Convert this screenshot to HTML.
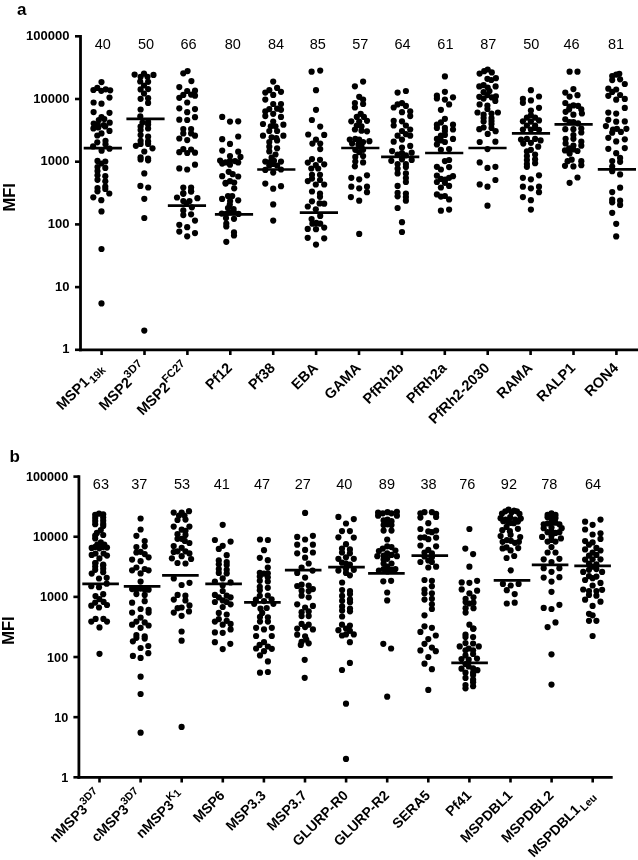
<!DOCTYPE html>
<html><head><meta charset="utf-8"><title>MFI dot plots</title>
<style>
html,body{margin:0;padding:0;background:#fff;}
svg{display:block;}
text{font-family:"Liberation Sans",Arial,sans-serif;fill:#000;}
.tk,.lb,.nm,.mfi{font-weight:bold;}
.nm{font-size:17px;}
.mfi{font-size:16.5px;}
circle{fill:#000;}
</style></head>
<body>
<svg width="638" height="860" viewBox="0 0 638 860">
<rect width="638" height="860" fill="#fff"/>
<line x1="80.5" y1="35.0" x2="80.5" y2="351.3" stroke="#000" stroke-width="2.8"/>
<line x1="75.0" y1="349.80" x2="80.5" y2="349.80" stroke="#000" stroke-width="2.6"/>
<text x="69.4" y="353.48" text-anchor="end" class="tk" font-size="13">1</text>
<line x1="75.0" y1="287.10" x2="80.5" y2="287.10" stroke="#000" stroke-width="2.6"/>
<text x="69.4" y="290.78" text-anchor="end" class="tk" font-size="13">10</text>
<line x1="75.0" y1="224.40" x2="80.5" y2="224.40" stroke="#000" stroke-width="2.6"/>
<text x="69.4" y="228.08" text-anchor="end" class="tk" font-size="13">100</text>
<line x1="75.0" y1="161.70" x2="80.5" y2="161.70" stroke="#000" stroke-width="2.6"/>
<text x="69.4" y="165.38" text-anchor="end" class="tk" font-size="13">1000</text>
<line x1="75.0" y1="99.00" x2="80.5" y2="99.00" stroke="#000" stroke-width="2.6"/>
<text x="69.4" y="102.68" text-anchor="end" class="tk" font-size="13">10000</text>
<line x1="75.0" y1="36.30" x2="80.5" y2="36.30" stroke="#000" stroke-width="2.6"/>
<text x="69.4" y="39.98" text-anchor="end" class="tk" font-size="13">100000</text>
<line x1="79.0" y1="349.8" x2="638" y2="349.8" stroke="#000" stroke-width="2.7"/>
<line x1="101.60" y1="349.8" x2="101.60" y2="355.0" stroke="#000" stroke-width="2.6"/>
<text x="102.80" y="49" text-anchor="middle" class="cn" font-size="14.5">40</text>
<text transform="translate(104.30,368.8) rotate(-45)" text-anchor="end" class="lb" font-size="14.5">MSP1<tspan dx="1.5" dy="3" font-size="11.0">19k</tspan></text>
<line x1="144.50" y1="349.8" x2="144.50" y2="355.0" stroke="#000" stroke-width="2.6"/>
<text x="146.00" y="49" text-anchor="middle" class="cn" font-size="14.5">50</text>
<text transform="translate(147.20,368.8) rotate(-45)" text-anchor="end" class="lb" font-size="14.5">MSP2<tspan dy="-6.5" font-size="11.2">3D7</tspan></text>
<line x1="187.40" y1="349.8" x2="187.40" y2="355.0" stroke="#000" stroke-width="2.6"/>
<text x="188.60" y="49" text-anchor="middle" class="cn" font-size="14.5">66</text>
<text transform="translate(190.10,368.8) rotate(-45)" text-anchor="end" class="lb" font-size="14.5">MSP2<tspan dy="-6.5" font-size="11.2">FC27</tspan></text>
<line x1="230.30" y1="349.8" x2="230.30" y2="355.0" stroke="#000" stroke-width="2.6"/>
<text x="232.80" y="49" text-anchor="middle" class="cn" font-size="14.5">80</text>
<text transform="translate(233.00,368.8) rotate(-45)" text-anchor="end" class="lb" font-size="14.5">Pf12</text>
<line x1="273.20" y1="349.8" x2="273.20" y2="355.0" stroke="#000" stroke-width="2.6"/>
<text x="276.00" y="49" text-anchor="middle" class="cn" font-size="14.5">84</text>
<text transform="translate(275.90,368.8) rotate(-45)" text-anchor="end" class="lb" font-size="14.5">Pf38</text>
<line x1="316.10" y1="349.8" x2="316.10" y2="355.0" stroke="#000" stroke-width="2.6"/>
<text x="317.70" y="49" text-anchor="middle" class="cn" font-size="14.5">85</text>
<text transform="translate(318.80,368.8) rotate(-45)" text-anchor="end" class="lb" font-size="14.5">EBA</text>
<line x1="359.00" y1="349.8" x2="359.00" y2="355.0" stroke="#000" stroke-width="2.6"/>
<text x="360.30" y="49" text-anchor="middle" class="cn" font-size="14.5">57</text>
<text transform="translate(361.70,368.8) rotate(-45)" text-anchor="end" class="lb" font-size="14.5">GAMA</text>
<line x1="401.90" y1="349.8" x2="401.90" y2="355.0" stroke="#000" stroke-width="2.6"/>
<text x="402.50" y="49" text-anchor="middle" class="cn" font-size="14.5">64</text>
<text transform="translate(404.60,368.8) rotate(-45)" text-anchor="end" class="lb" font-size="14.5">PfRh2b</text>
<line x1="444.80" y1="349.8" x2="444.80" y2="355.0" stroke="#000" stroke-width="2.6"/>
<text x="445.40" y="49" text-anchor="middle" class="cn" font-size="14.5">61</text>
<text transform="translate(447.50,368.8) rotate(-45)" text-anchor="end" class="lb" font-size="14.5">PfRh2a</text>
<line x1="487.70" y1="349.8" x2="487.70" y2="355.0" stroke="#000" stroke-width="2.6"/>
<text x="488.20" y="49" text-anchor="middle" class="cn" font-size="14.5">87</text>
<text transform="translate(490.40,368.8) rotate(-45)" text-anchor="end" class="lb" font-size="14.5">PfRh2-2030</text>
<line x1="530.60" y1="349.8" x2="530.60" y2="355.0" stroke="#000" stroke-width="2.6"/>
<text x="531.20" y="49" text-anchor="middle" class="cn" font-size="14.5">50</text>
<text transform="translate(533.30,368.8) rotate(-45)" text-anchor="end" class="lb" font-size="14.5">RAMA</text>
<line x1="573.50" y1="349.8" x2="573.50" y2="355.0" stroke="#000" stroke-width="2.6"/>
<text x="571.60" y="49" text-anchor="middle" class="cn" font-size="14.5">46</text>
<text transform="translate(576.20,368.8) rotate(-45)" text-anchor="end" class="lb" font-size="14.5">RALP1</text>
<line x1="616.40" y1="349.8" x2="616.40" y2="355.0" stroke="#000" stroke-width="2.6"/>
<text x="616.00" y="49" text-anchor="middle" class="cn" font-size="14.5">81</text>
<text transform="translate(619.10,368.8) rotate(-45)" text-anchor="end" class="lb" font-size="14.5">RON4</text>
<circle cx="101.5" cy="82.1" r="3.1"/>
<circle cx="93.4" cy="90" r="3.1"/>
<circle cx="97.3" cy="87.9" r="3.1"/>
<circle cx="101.3" cy="90.8" r="3.1"/>
<circle cx="105.7" cy="89.3" r="3.1"/>
<circle cx="110.2" cy="90.3" r="3.1"/>
<circle cx="109.5" cy="97.6" r="3.1"/>
<circle cx="93.6" cy="102.5" r="3.1"/>
<circle cx="101.5" cy="103.7" r="3.1"/>
<circle cx="93.6" cy="112.1" r="3.1"/>
<circle cx="109.5" cy="112.8" r="3.1"/>
<circle cx="101.5" cy="117" r="3.1"/>
<circle cx="98.8" cy="120" r="3.1"/>
<circle cx="104.3" cy="119" r="3.1"/>
<circle cx="93.7" cy="123.5" r="3.1"/>
<circle cx="97.8" cy="124.5" r="3.1"/>
<circle cx="103.8" cy="125" r="3.1"/>
<circle cx="109.7" cy="122.7" r="3.1"/>
<circle cx="93.4" cy="128.4" r="3.1"/>
<circle cx="98.3" cy="127.4" r="3.1"/>
<circle cx="105.2" cy="126.4" r="3.1"/>
<circle cx="109.5" cy="130.9" r="3.1"/>
<circle cx="101.5" cy="133.4" r="3.1"/>
<circle cx="97.3" cy="135.5" r="3.1"/>
<circle cx="97.3" cy="142.3" r="3.1"/>
<circle cx="105.5" cy="140.8" r="3.1"/>
<circle cx="105.5" cy="144.2" r="3.1"/>
<circle cx="93.1" cy="146.4" r="3.1"/>
<circle cx="101.6" cy="150.7" r="3.1"/>
<circle cx="109.5" cy="148.7" r="3.1"/>
<circle cx="97.5" cy="160.9" r="3.1"/>
<circle cx="97.5" cy="167" r="3.1"/>
<circle cx="97.5" cy="171.1" r="3.1"/>
<circle cx="97.5" cy="175.3" r="3.1"/>
<circle cx="97.5" cy="179.8" r="3.1"/>
<circle cx="97.5" cy="188.1" r="3.1"/>
<circle cx="97.5" cy="191.3" r="3.1"/>
<circle cx="105.3" cy="161.5" r="3.1"/>
<circle cx="105.3" cy="167.9" r="3.1"/>
<circle cx="105.3" cy="176.2" r="3.1"/>
<circle cx="105.3" cy="181.3" r="3.1"/>
<circle cx="105.3" cy="186.5" r="3.1"/>
<circle cx="105.3" cy="189" r="3.1"/>
<circle cx="101.3" cy="163.5" r="3.1"/>
<circle cx="109.3" cy="193.5" r="3.1"/>
<circle cx="93.3" cy="197.3" r="3.1"/>
<circle cx="101.3" cy="200.2" r="3.1"/>
<circle cx="101.5" cy="211.4" r="3.1"/>
<circle cx="101.5" cy="249" r="3.1"/>
<circle cx="101.5" cy="303.4" r="3.1"/>
<circle cx="134.6" cy="74.6" r="3.1"/>
<circle cx="153.5" cy="74.9" r="3.1"/>
<circle cx="144" cy="73.7" r="3.1"/>
<circle cx="140.6" cy="76.8" r="3.1"/>
<circle cx="147.5" cy="76.8" r="3.1"/>
<circle cx="140.2" cy="81.5" r="3.1"/>
<circle cx="148.1" cy="81.8" r="3.1"/>
<circle cx="144" cy="85.5" r="3.1"/>
<circle cx="140.6" cy="89.4" r="3.1"/>
<circle cx="148.1" cy="89.1" r="3.1"/>
<circle cx="144" cy="93.5" r="3.1"/>
<circle cx="140.6" cy="98.8" r="3.1"/>
<circle cx="148.1" cy="98.2" r="3.1"/>
<circle cx="148.1" cy="102.9" r="3.1"/>
<circle cx="140.6" cy="109.5" r="3.1"/>
<circle cx="140.3" cy="116.4" r="3.1"/>
<circle cx="142.5" cy="122.5" r="3.1"/>
<circle cx="140.6" cy="126.6" r="3.1"/>
<circle cx="140.6" cy="130.1" r="3.1"/>
<circle cx="140.6" cy="135.1" r="3.1"/>
<circle cx="140.6" cy="140.8" r="3.1"/>
<circle cx="140.6" cy="143.9" r="3.1"/>
<circle cx="135.9" cy="145.8" r="3.1"/>
<circle cx="148.1" cy="121.9" r="3.1"/>
<circle cx="148.1" cy="124.4" r="3.1"/>
<circle cx="148.1" cy="128.5" r="3.1"/>
<circle cx="148.1" cy="136.7" r="3.1"/>
<circle cx="148.1" cy="141.4" r="3.1"/>
<circle cx="148.1" cy="143.9" r="3.1"/>
<circle cx="152.5" cy="148.3" r="3.1"/>
<circle cx="144.3" cy="151.5" r="3.1"/>
<circle cx="140.6" cy="157.3" r="3.1"/>
<circle cx="140.6" cy="159.5" r="3.1"/>
<circle cx="148.1" cy="158.5" r="3.1"/>
<circle cx="148.1" cy="160.3" r="3.1"/>
<circle cx="144.3" cy="173.4" r="3.1"/>
<circle cx="140.4" cy="185.9" r="3.1"/>
<circle cx="148.2" cy="187.5" r="3.1"/>
<circle cx="144.3" cy="198.8" r="3.1"/>
<circle cx="144.3" cy="218" r="3.1"/>
<circle cx="144.3" cy="330.6" r="3.1"/>
<circle cx="183.3" cy="73.3" r="3.1"/>
<circle cx="187.6" cy="71.1" r="3.1"/>
<circle cx="191.4" cy="81.1" r="3.1"/>
<circle cx="179.3" cy="87.1" r="3.1"/>
<circle cx="187.2" cy="91.0" r="3.1"/>
<circle cx="195.0" cy="90.7" r="3.1"/>
<circle cx="183.3" cy="94.9" r="3.1"/>
<circle cx="191.1" cy="94.6" r="3.1"/>
<circle cx="195.0" cy="95.7" r="3.1"/>
<circle cx="179.3" cy="97.8" r="3.1"/>
<circle cx="187.2" cy="102.5" r="3.1"/>
<circle cx="179.3" cy="108.3" r="3.1"/>
<circle cx="195.0" cy="109.1" r="3.1"/>
<circle cx="187.2" cy="112.2" r="3.1"/>
<circle cx="179.3" cy="119.7" r="3.1"/>
<circle cx="187.2" cy="120.0" r="3.1"/>
<circle cx="195.0" cy="117.2" r="3.1"/>
<circle cx="183.3" cy="129.1" r="3.1"/>
<circle cx="191.1" cy="129.1" r="3.1"/>
<circle cx="183.3" cy="133.4" r="3.1"/>
<circle cx="191.1" cy="133.4" r="3.1"/>
<circle cx="195.0" cy="135.7" r="3.1"/>
<circle cx="179.3" cy="138.5" r="3.1"/>
<circle cx="187.2" cy="140.1" r="3.1"/>
<circle cx="179.3" cy="152.2" r="3.1"/>
<circle cx="183.3" cy="149.1" r="3.1"/>
<circle cx="187.2" cy="153.0" r="3.1"/>
<circle cx="191.1" cy="149.5" r="3.1"/>
<circle cx="195.0" cy="152.7" r="3.1"/>
<circle cx="179.3" cy="168.4" r="3.1"/>
<circle cx="187.2" cy="169.5" r="3.1"/>
<circle cx="195.0" cy="164.7" r="3.1"/>
<circle cx="183.3" cy="187.5" r="3.1"/>
<circle cx="191.1" cy="187.5" r="3.1"/>
<circle cx="191.1" cy="191.4" r="3.1"/>
<circle cx="183.3" cy="193.8" r="3.1"/>
<circle cx="183.3" cy="193.1" r="3.1"/>
<circle cx="191.1" cy="191.3" r="3.1"/>
<circle cx="177.0" cy="197.5" r="3.1"/>
<circle cx="197.4" cy="198.2" r="3.1"/>
<circle cx="183.3" cy="201.0" r="3.1"/>
<circle cx="189.5" cy="201.0" r="3.1"/>
<circle cx="186.4" cy="203.3" r="3.1"/>
<circle cx="191.9" cy="207.3" r="3.1"/>
<circle cx="183.3" cy="210.4" r="3.1"/>
<circle cx="183.3" cy="215.1" r="3.1"/>
<circle cx="191.1" cy="214.3" r="3.1"/>
<circle cx="195.0" cy="220.6" r="3.1"/>
<circle cx="179.3" cy="224.8" r="3.1"/>
<circle cx="187.2" cy="227.2" r="3.1"/>
<circle cx="179.3" cy="231.6" r="3.1"/>
<circle cx="187.2" cy="236.3" r="3.1"/>
<circle cx="195.0" cy="233.1" r="3.1"/>
<circle cx="222.2" cy="116.9" r="3.1"/>
<circle cx="230.0" cy="121.6" r="3.1"/>
<circle cx="238.2" cy="121.3" r="3.1"/>
<circle cx="238.2" cy="136.5" r="3.1"/>
<circle cx="222.2" cy="139.2" r="3.1"/>
<circle cx="230.0" cy="143.9" r="3.1"/>
<circle cx="222.2" cy="150.6" r="3.1"/>
<circle cx="238.2" cy="151.7" r="3.1"/>
<circle cx="230.0" cy="156.1" r="3.1"/>
<circle cx="240.5" cy="156.9" r="3.1"/>
<circle cx="220.1" cy="160.5" r="3.1"/>
<circle cx="225.6" cy="162.4" r="3.1"/>
<circle cx="230.0" cy="160.8" r="3.1"/>
<circle cx="235.0" cy="161.1" r="3.1"/>
<circle cx="238.2" cy="162.4" r="3.1"/>
<circle cx="230.0" cy="164.7" r="3.1"/>
<circle cx="222.2" cy="163.6" r="3.1"/>
<circle cx="228.7" cy="171.8" r="3.1"/>
<circle cx="222.2" cy="176.2" r="3.1"/>
<circle cx="232.7" cy="174.2" r="3.1"/>
<circle cx="238.2" cy="176.5" r="3.1"/>
<circle cx="225.6" cy="182.8" r="3.1"/>
<circle cx="230.0" cy="181.2" r="3.1"/>
<circle cx="234.2" cy="182.5" r="3.1"/>
<circle cx="234.2" cy="188.3" r="3.1"/>
<circle cx="225.6" cy="183.6" r="3.1"/>
<circle cx="222.1" cy="198.9" r="3.1"/>
<circle cx="228" cy="196.1" r="3.1"/>
<circle cx="232.2" cy="196.1" r="3.1"/>
<circle cx="238.2" cy="200.3" r="3.1"/>
<circle cx="230.1" cy="201" r="3.1"/>
<circle cx="229.8" cy="204.5" r="3.1"/>
<circle cx="228" cy="208" r="3.1"/>
<circle cx="233.6" cy="209" r="3.1"/>
<circle cx="221.8" cy="213.6" r="3.1"/>
<circle cx="226" cy="213.9" r="3.1"/>
<circle cx="230" cy="212.5" r="3.1"/>
<circle cx="234" cy="212.5" r="3.1"/>
<circle cx="238.5" cy="213.9" r="3.1"/>
<circle cx="226" cy="218.1" r="3.1"/>
<circle cx="234" cy="218.8" r="3.1"/>
<circle cx="226.3" cy="223.7" r="3.1"/>
<circle cx="226.3" cy="226.5" r="3.1"/>
<circle cx="234" cy="232.4" r="3.1"/>
<circle cx="234" cy="235.5" r="3.1"/>
<circle cx="226.3" cy="241.8" r="3.1"/>
<circle cx="273.2" cy="81.6" r="3.1"/>
<circle cx="269.3" cy="90.2" r="3.1"/>
<circle cx="277.1" cy="87.9" r="3.1"/>
<circle cx="265.3" cy="92.6" r="3.1"/>
<circle cx="281.0" cy="91.8" r="3.1"/>
<circle cx="273.2" cy="94.9" r="3.1"/>
<circle cx="265.3" cy="99.6" r="3.1"/>
<circle cx="273.2" cy="104.0" r="3.1"/>
<circle cx="281.0" cy="104.0" r="3.1"/>
<circle cx="269.3" cy="109.1" r="3.1"/>
<circle cx="277.1" cy="108.7" r="3.1"/>
<circle cx="265.3" cy="111.4" r="3.1"/>
<circle cx="281.0" cy="109.8" r="3.1"/>
<circle cx="273.2" cy="113.8" r="3.1"/>
<circle cx="265.3" cy="116.1" r="3.1"/>
<circle cx="281.0" cy="116.9" r="3.1"/>
<circle cx="263.0" cy="124.0" r="3.1"/>
<circle cx="273.2" cy="121.6" r="3.1"/>
<circle cx="283.4" cy="124.7" r="3.1"/>
<circle cx="270.8" cy="126.3" r="3.1"/>
<circle cx="275.5" cy="126.3" r="3.1"/>
<circle cx="269.3" cy="131.0" r="3.1"/>
<circle cx="277.1" cy="131.0" r="3.1"/>
<circle cx="263.0" cy="135.7" r="3.1"/>
<circle cx="283.4" cy="135.7" r="3.1"/>
<circle cx="271.6" cy="137.3" r="3.1"/>
<circle cx="276.3" cy="138.1" r="3.1"/>
<circle cx="269.3" cy="142.0" r="3.1"/>
<circle cx="277.1" cy="140.4" r="3.1"/>
<circle cx="269.3" cy="146.7" r="3.1"/>
<circle cx="277.1" cy="148.3" r="3.1"/>
<circle cx="269.3" cy="151.4" r="3.1"/>
<circle cx="275.5" cy="154.5" r="3.1"/>
<circle cx="271.6" cy="157.7" r="3.1"/>
<circle cx="265.3" cy="161.6" r="3.1"/>
<circle cx="269.3" cy="162.4" r="3.1"/>
<circle cx="274.0" cy="160.8" r="3.1"/>
<circle cx="281.0" cy="161.6" r="3.1"/>
<circle cx="269.3" cy="165.5" r="3.1"/>
<circle cx="277.1" cy="165.5" r="3.1"/>
<circle cx="273.2" cy="164.0" r="3.1"/>
<circle cx="265.3" cy="169.9" r="3.1"/>
<circle cx="273.2" cy="172.6" r="3.1"/>
<circle cx="281.0" cy="169.5" r="3.1"/>
<circle cx="265.3" cy="183.6" r="3.1"/>
<circle cx="273.2" cy="188.7" r="3.1"/>
<circle cx="281.0" cy="186.2" r="3.1"/>
<circle cx="273.2" cy="204.4" r="3.1"/>
<circle cx="273.2" cy="220.6" r="3.1"/>
<circle cx="311.6" cy="71.7" r="3.1"/>
<circle cx="320.2" cy="70.6" r="3.1"/>
<circle cx="316.0" cy="90.2" r="3.1"/>
<circle cx="316.0" cy="109.8" r="3.1"/>
<circle cx="311.9" cy="120.0" r="3.1"/>
<circle cx="320.2" cy="126.6" r="3.1"/>
<circle cx="308.2" cy="134.5" r="3.1"/>
<circle cx="324.2" cy="134.9" r="3.1"/>
<circle cx="316.0" cy="139.6" r="3.1"/>
<circle cx="312.4" cy="143.6" r="3.1"/>
<circle cx="320.2" cy="143.6" r="3.1"/>
<circle cx="320.2" cy="149.1" r="3.1"/>
<circle cx="312" cy="159.1" r="3.1"/>
<circle cx="307.8" cy="162.6" r="3.1"/>
<circle cx="320" cy="159.8" r="3.1"/>
<circle cx="324.2" cy="164.3" r="3.1"/>
<circle cx="315.8" cy="165" r="3.1"/>
<circle cx="311.3" cy="168.5" r="3.1"/>
<circle cx="318.2" cy="168.5" r="3.1"/>
<circle cx="312" cy="174.8" r="3.1"/>
<circle cx="320" cy="174.8" r="3.1"/>
<circle cx="312" cy="178.6" r="3.1"/>
<circle cx="307.8" cy="181.1" r="3.1"/>
<circle cx="320" cy="180" r="3.1"/>
<circle cx="315.8" cy="184.5" r="3.1"/>
<circle cx="324.2" cy="184.5" r="3.1"/>
<circle cx="312" cy="191.5" r="3.1"/>
<circle cx="320" cy="193.6" r="3.1"/>
<circle cx="320" cy="196.8" r="3.1"/>
<circle cx="312" cy="201.3" r="3.1"/>
<circle cx="307.8" cy="206.5" r="3.1"/>
<circle cx="319.6" cy="203.4" r="3.1"/>
<circle cx="324.2" cy="203.7" r="3.1"/>
<circle cx="315.8" cy="209.3" r="3.1"/>
<circle cx="320.2" cy="215.9" r="3.1"/>
<circle cx="311.6" cy="219.0" r="3.1"/>
<circle cx="312.4" cy="223.7" r="3.1"/>
<circle cx="316.3" cy="222.9" r="3.1"/>
<circle cx="320.2" cy="223.7" r="3.1"/>
<circle cx="307.7" cy="228.9" r="3.1"/>
<circle cx="316.0" cy="229.2" r="3.1"/>
<circle cx="324.2" cy="227.6" r="3.1"/>
<circle cx="307.7" cy="237.8" r="3.1"/>
<circle cx="324.2" cy="238.3" r="3.1"/>
<circle cx="316.0" cy="244.6" r="3.1"/>
<circle cx="363.1" cy="81.6" r="3.1"/>
<circle cx="354.9" cy="86.3" r="3.1"/>
<circle cx="359.2" cy="96.8" r="3.1"/>
<circle cx="363.1" cy="99.6" r="3.1"/>
<circle cx="354.9" cy="103.1" r="3.1"/>
<circle cx="363.1" cy="104.0" r="3.1"/>
<circle cx="354.9" cy="107.5" r="3.1"/>
<circle cx="360.7" cy="113.8" r="3.1"/>
<circle cx="356.8" cy="116.9" r="3.1"/>
<circle cx="363.9" cy="116.9" r="3.1"/>
<circle cx="351.3" cy="121.3" r="3.1"/>
<circle cx="367.0" cy="120.8" r="3.1"/>
<circle cx="359.2" cy="121.6" r="3.1"/>
<circle cx="356.8" cy="125.5" r="3.1"/>
<circle cx="361.5" cy="126.3" r="3.1"/>
<circle cx="354.9" cy="129.5" r="3.1"/>
<circle cx="367.0" cy="131.3" r="3.1"/>
<circle cx="361.5" cy="130.7" r="3.1"/>
<circle cx="349.8" cy="139.6" r="3.1"/>
<circle cx="355.3" cy="138.9" r="3.1"/>
<circle cx="359.2" cy="139.6" r="3.1"/>
<circle cx="363.1" cy="142.0" r="3.1"/>
<circle cx="369.4" cy="141.2" r="3.1"/>
<circle cx="352.1" cy="143.6" r="3.1"/>
<circle cx="358.4" cy="144.4" r="3.1"/>
<circle cx="361.5" cy="146.7" r="3.1"/>
<circle cx="355.3" cy="149.8" r="3.1"/>
<circle cx="359.2" cy="152.2" r="3.1"/>
<circle cx="363.1" cy="149.8" r="3.1"/>
<circle cx="355.3" cy="156.9" r="3.1"/>
<circle cx="363.1" cy="156.1" r="3.1"/>
<circle cx="355.3" cy="161.6" r="3.1"/>
<circle cx="363.1" cy="162.4" r="3.1"/>
<circle cx="354.9" cy="166.3" r="3.1"/>
<circle cx="351.3" cy="177.8" r="3.1"/>
<circle cx="359.2" cy="179.3" r="3.1"/>
<circle cx="367.0" cy="175.3" r="3.1"/>
<circle cx="351.3" cy="186.7" r="3.1"/>
<circle cx="359.2" cy="188.3" r="3.1"/>
<circle cx="367.0" cy="186.7" r="3.1"/>
<circle cx="367.0" cy="192.2" r="3.1"/>
<circle cx="350.9" cy="197.1" r="3.1"/>
<circle cx="359.2" cy="200.7" r="3.1"/>
<circle cx="359.2" cy="233.9" r="3.1"/>
<circle cx="397.6" cy="92.6" r="3.1"/>
<circle cx="405.9" cy="91.0" r="3.1"/>
<circle cx="393.7" cy="107.5" r="3.1"/>
<circle cx="397.6" cy="104.4" r="3.1"/>
<circle cx="402.0" cy="103.1" r="3.1"/>
<circle cx="405.9" cy="105.9" r="3.1"/>
<circle cx="410.2" cy="111.4" r="3.1"/>
<circle cx="402.0" cy="112.2" r="3.1"/>
<circle cx="410.2" cy="116.1" r="3.1"/>
<circle cx="393.7" cy="120.8" r="3.1"/>
<circle cx="402.0" cy="121.3" r="3.1"/>
<circle cx="393.7" cy="125.5" r="3.1"/>
<circle cx="405.9" cy="125.5" r="3.1"/>
<circle cx="402.0" cy="131.0" r="3.1"/>
<circle cx="410.2" cy="129.5" r="3.1"/>
<circle cx="397.6" cy="135.7" r="3.1"/>
<circle cx="405.9" cy="134.2" r="3.1"/>
<circle cx="410.2" cy="135.7" r="3.1"/>
<circle cx="393.7" cy="141.7" r="3.1"/>
<circle cx="402.0" cy="139.6" r="3.1"/>
<circle cx="410.2" cy="145.9" r="3.1"/>
<circle cx="402.0" cy="147.5" r="3.1"/>
<circle cx="392.1" cy="151.1" r="3.1"/>
<circle cx="411.7" cy="152.7" r="3.1"/>
<circle cx="397.6" cy="154.5" r="3.1"/>
<circle cx="402.0" cy="153.0" r="3.1"/>
<circle cx="405.9" cy="155.3" r="3.1"/>
<circle cx="391.3" cy="160.8" r="3.1"/>
<circle cx="402.0" cy="159.3" r="3.1"/>
<circle cx="411.7" cy="160.0" r="3.1"/>
<circle cx="397.6" cy="164.0" r="3.1"/>
<circle cx="405.9" cy="164.0" r="3.1"/>
<circle cx="397.6" cy="168.7" r="3.1"/>
<circle cx="405.9" cy="167.1" r="3.1"/>
<circle cx="397.6" cy="173.4" r="3.1"/>
<circle cx="405.9" cy="173.4" r="3.1"/>
<circle cx="405.9" cy="178.1" r="3.1"/>
<circle cx="405.9" cy="182.0" r="3.1"/>
<circle cx="397.6" cy="185.9" r="3.1"/>
<circle cx="397.6" cy="192.8" r="3.1"/>
<circle cx="405.9" cy="193.5" r="3.1"/>
<circle cx="397.6" cy="196.3" r="3.1"/>
<circle cx="405.9" cy="197.1" r="3.1"/>
<circle cx="405.9" cy="200.7" r="3.1"/>
<circle cx="397.6" cy="208.0" r="3.1"/>
<circle cx="402.0" cy="222.2" r="3.1"/>
<circle cx="402.0" cy="232.0" r="3.1"/>
<circle cx="444.9" cy="76.4" r="3.1"/>
<circle cx="444.9" cy="91.8" r="3.1"/>
<circle cx="436.9" cy="95.7" r="3.1"/>
<circle cx="436.9" cy="98.4" r="3.1"/>
<circle cx="453.0" cy="97.3" r="3.1"/>
<circle cx="444.9" cy="99.6" r="3.1"/>
<circle cx="449.1" cy="104.4" r="3.1"/>
<circle cx="440.9" cy="109.8" r="3.1"/>
<circle cx="444.9" cy="118.8" r="3.1"/>
<circle cx="436.9" cy="124.7" r="3.1"/>
<circle cx="440.9" cy="122.4" r="3.1"/>
<circle cx="436.9" cy="127.9" r="3.1"/>
<circle cx="444.9" cy="127.9" r="3.1"/>
<circle cx="453.0" cy="124.7" r="3.1"/>
<circle cx="444.9" cy="131.0" r="3.1"/>
<circle cx="453.0" cy="129.5" r="3.1"/>
<circle cx="440.9" cy="135.7" r="3.1"/>
<circle cx="444.9" cy="134.9" r="3.1"/>
<circle cx="436.9" cy="138.9" r="3.1"/>
<circle cx="440.9" cy="140.4" r="3.1"/>
<circle cx="453.0" cy="138.9" r="3.1"/>
<circle cx="444.9" cy="142.0" r="3.1"/>
<circle cx="436.9" cy="144.4" r="3.1"/>
<circle cx="440.9" cy="149.8" r="3.1"/>
<circle cx="449.1" cy="149.1" r="3.1"/>
<circle cx="444.9" cy="161.1" r="3.1"/>
<circle cx="449.1" cy="160.0" r="3.1"/>
<circle cx="436.9" cy="166.8" r="3.1"/>
<circle cx="440.9" cy="169.5" r="3.1"/>
<circle cx="449.1" cy="167.1" r="3.1"/>
<circle cx="436.9" cy="175.7" r="3.1"/>
<circle cx="440.9" cy="178.9" r="3.1"/>
<circle cx="445.2" cy="179.6" r="3.1"/>
<circle cx="449.1" cy="177.8" r="3.1"/>
<circle cx="453.0" cy="176.2" r="3.1"/>
<circle cx="436.9" cy="182.0" r="3.1"/>
<circle cx="444.9" cy="182.8" r="3.1"/>
<circle cx="440.9" cy="187.5" r="3.1"/>
<circle cx="449.1" cy="185.9" r="3.1"/>
<circle cx="436.9" cy="194.4" r="3.1"/>
<circle cx="440.9" cy="196.6" r="3.1"/>
<circle cx="444.9" cy="196.0" r="3.1"/>
<circle cx="449.1" cy="199.4" r="3.1"/>
<circle cx="440.9" cy="210.7" r="3.1"/>
<circle cx="449.1" cy="209.6" r="3.1"/>
<circle cx="479.6" cy="73.6" r="3.1"/>
<circle cx="484.2" cy="71.2" r="3.1"/>
<circle cx="487.7" cy="69.5" r="3.1"/>
<circle cx="491.8" cy="72.4" r="3.1"/>
<circle cx="487.4" cy="78.8" r="3.1"/>
<circle cx="491.2" cy="80" r="3.1"/>
<circle cx="495.9" cy="78.2" r="3.1"/>
<circle cx="479.3" cy="86.4" r="3.1"/>
<circle cx="483.6" cy="85.2" r="3.1"/>
<circle cx="487.7" cy="87.5" r="3.1"/>
<circle cx="495.6" cy="86.4" r="3.1"/>
<circle cx="483.6" cy="92.2" r="3.1"/>
<circle cx="489.5" cy="91" r="3.1"/>
<circle cx="479.3" cy="96.8" r="3.1"/>
<circle cx="483.6" cy="98.6" r="3.1"/>
<circle cx="487.4" cy="95.1" r="3.1"/>
<circle cx="491.8" cy="97.4" r="3.1"/>
<circle cx="495.9" cy="96.3" r="3.1"/>
<circle cx="495.3" cy="100.9" r="3.1"/>
<circle cx="479.6" cy="104.4" r="3.1"/>
<circle cx="487.4" cy="105.6" r="3.1"/>
<circle cx="487.4" cy="109" r="3.1"/>
<circle cx="477.5" cy="112.5" r="3.1"/>
<circle cx="497.9" cy="112.5" r="3.1"/>
<circle cx="479.7" cy="142.0" r="3.1"/>
<circle cx="495.4" cy="141.7" r="3.1"/>
<circle cx="487.5" cy="149.1" r="3.1"/>
<circle cx="479.7" cy="162.4" r="3.1"/>
<circle cx="487.5" cy="167.9" r="3.1"/>
<circle cx="495.4" cy="166.8" r="3.1"/>
<circle cx="495.4" cy="180.0" r="3.1"/>
<circle cx="479.7" cy="184.4" r="3.1"/>
<circle cx="487.5" cy="186.7" r="3.1"/>
<circle cx="483.6" cy="114.7" r="3.1"/>
<circle cx="483.6" cy="118.1" r="3.1"/>
<circle cx="483.6" cy="121.6" r="3.1"/>
<circle cx="483.6" cy="127.5" r="3.1"/>
<circle cx="479.3" cy="129.2" r="3.1"/>
<circle cx="491.5" cy="113.5" r="3.1"/>
<circle cx="491.5" cy="118.1" r="3.1"/>
<circle cx="491.5" cy="121" r="3.1"/>
<circle cx="491.5" cy="124" r="3.1"/>
<circle cx="491.5" cy="128" r="3.1"/>
<circle cx="495.6" cy="131.2" r="3.1"/>
<circle cx="487.7" cy="133.9" r="3.1"/>
<circle cx="487.5" cy="205.7" r="3.1"/>
<circle cx="530.9" cy="90.2" r="3.1"/>
<circle cx="522.9" cy="98.9" r="3.1"/>
<circle cx="522.9" cy="102.8" r="3.1"/>
<circle cx="530.9" cy="100.4" r="3.1"/>
<circle cx="539.0" cy="96.5" r="3.1"/>
<circle cx="539.0" cy="107.8" r="3.1"/>
<circle cx="530.9" cy="110.6" r="3.1"/>
<circle cx="530.9" cy="115.3" r="3.1"/>
<circle cx="526.9" cy="117.7" r="3.1"/>
<circle cx="535.1" cy="117.7" r="3.1"/>
<circle cx="522.9" cy="121.3" r="3.1"/>
<circle cx="539.0" cy="120.4" r="3.1"/>
<circle cx="530.9" cy="121.6" r="3.1"/>
<circle cx="526.9" cy="125.5" r="3.1"/>
<circle cx="535.1" cy="125.5" r="3.1"/>
<circle cx="522.9" cy="129.5" r="3.1"/>
<circle cx="530.9" cy="129.5" r="3.1"/>
<circle cx="539.0" cy="129.8" r="3.1"/>
<circle cx="535.1" cy="127.9" r="3.1"/>
<circle cx="521.0" cy="139.6" r="3.1"/>
<circle cx="526.9" cy="138.9" r="3.1"/>
<circle cx="535.1" cy="138.9" r="3.1"/>
<circle cx="540.6" cy="140.4" r="3.1"/>
<circle cx="523.3" cy="143.6" r="3.1"/>
<circle cx="530.9" cy="142.8" r="3.1"/>
<circle cx="538.2" cy="146.7" r="3.1"/>
<circle cx="526.9" cy="151.4" r="3.1"/>
<circle cx="530.9" cy="149.8" r="3.1"/>
<circle cx="526.9" cy="156.1" r="3.1"/>
<circle cx="535.1" cy="154.5" r="3.1"/>
<circle cx="526.9" cy="160.0" r="3.1"/>
<circle cx="535.1" cy="159.3" r="3.1"/>
<circle cx="526.9" cy="164.0" r="3.1"/>
<circle cx="535.1" cy="163.2" r="3.1"/>
<circle cx="526.9" cy="166.8" r="3.1"/>
<circle cx="522.9" cy="177.8" r="3.1"/>
<circle cx="530.9" cy="179.3" r="3.1"/>
<circle cx="539.0" cy="175.3" r="3.1"/>
<circle cx="522.9" cy="186.7" r="3.1"/>
<circle cx="530.9" cy="188.3" r="3.1"/>
<circle cx="539.0" cy="186.7" r="3.1"/>
<circle cx="539.0" cy="192.2" r="3.1"/>
<circle cx="522.9" cy="197.1" r="3.1"/>
<circle cx="530.9" cy="200.2" r="3.1"/>
<circle cx="530.9" cy="209.6" r="3.1"/>
<circle cx="569.6" cy="71.7" r="3.1"/>
<circle cx="577.5" cy="71.7" r="3.1"/>
<circle cx="573.4" cy="89.1" r="3.1"/>
<circle cx="565.3" cy="92.6" r="3.1"/>
<circle cx="569.6" cy="96.6" r="3.1"/>
<circle cx="577.5" cy="95.2" r="3.1"/>
<circle cx="565.3" cy="103" r="3.1"/>
<circle cx="569.6" cy="106.5" r="3.1"/>
<circle cx="573.4" cy="105.4" r="3.1"/>
<circle cx="578.1" cy="105.9" r="3.1"/>
<circle cx="565.6" cy="111.8" r="3.1"/>
<circle cx="569.1" cy="109.4" r="3.1"/>
<circle cx="573.4" cy="114.7" r="3.1"/>
<circle cx="581.3" cy="109.4" r="3.1"/>
<circle cx="581.9" cy="113.5" r="3.1"/>
<circle cx="565.3" cy="119.3" r="3.1"/>
<circle cx="569.6" cy="122.2" r="3.1"/>
<circle cx="573.4" cy="122.2" r="3.1"/>
<circle cx="578.1" cy="123.4" r="3.1"/>
<circle cx="565.3" cy="129.2" r="3.1"/>
<circle cx="573.4" cy="129.2" r="3.1"/>
<circle cx="581.3" cy="128.5" r="3.1"/>
<circle cx="581.3" cy="132.5" r="3.1"/>
<circle cx="573.4" cy="135" r="3.1"/>
<circle cx="573.4" cy="138.8" r="3.1"/>
<circle cx="565.6" cy="138.8" r="3.1"/>
<circle cx="565.6" cy="143.4" r="3.1"/>
<circle cx="581.3" cy="141.7" r="3.1"/>
<circle cx="581.3" cy="145.7" r="3.1"/>
<circle cx="573.4" cy="145.5" r="3.1"/>
<circle cx="565" cy="150.4" r="3.1"/>
<circle cx="569.1" cy="148.4" r="3.1"/>
<circle cx="569.6" cy="153.6" r="3.1"/>
<circle cx="573.4" cy="149.5" r="3.1"/>
<circle cx="577.5" cy="151" r="3.1"/>
<circle cx="571.7" cy="159.7" r="3.1"/>
<circle cx="567.6" cy="161.2" r="3.1"/>
<circle cx="565" cy="165.8" r="3.1"/>
<circle cx="573.4" cy="166.4" r="3.1"/>
<circle cx="581.3" cy="161.2" r="3.1"/>
<circle cx="581.3" cy="165.2" r="3.1"/>
<circle cx="577.5" cy="177.5" r="3.1"/>
<circle cx="569.6" cy="182.8" r="3.1"/>
<circle cx="612.2" cy="76.1" r="3.1"/>
<circle cx="616.2" cy="74.6" r="3.1"/>
<circle cx="619.3" cy="73.8" r="3.1"/>
<circle cx="612.2" cy="80.1" r="3.1"/>
<circle cx="620.1" cy="79.3" r="3.1"/>
<circle cx="624.8" cy="84.0" r="3.1"/>
<circle cx="608.3" cy="88.7" r="3.1"/>
<circle cx="616.2" cy="89.5" r="3.1"/>
<circle cx="612.2" cy="91.9" r="3.1"/>
<circle cx="608.3" cy="95.8" r="3.1"/>
<circle cx="620.1" cy="95.0" r="3.1"/>
<circle cx="616.2" cy="99.7" r="3.1"/>
<circle cx="624.8" cy="98.9" r="3.1"/>
<circle cx="624.8" cy="107.9" r="3.1"/>
<circle cx="608.3" cy="112.6" r="3.1"/>
<circle cx="616.2" cy="113.6" r="3.1"/>
<circle cx="608.3" cy="119.8" r="3.1"/>
<circle cx="616.2" cy="121.7" r="3.1"/>
<circle cx="624.8" cy="121.4" r="3.1"/>
<circle cx="605.9" cy="126.1" r="3.1"/>
<circle cx="613.0" cy="129.6" r="3.1"/>
<circle cx="616.9" cy="128.8" r="3.1"/>
<circle cx="620.9" cy="131.9" r="3.1"/>
<circle cx="626.4" cy="128.8" r="3.1"/>
<circle cx="612.2" cy="132.7" r="3.1"/>
<circle cx="608.3" cy="137.8" r="3.1"/>
<circle cx="616.2" cy="141.4" r="3.1"/>
<circle cx="624.8" cy="139.3" r="3.1"/>
<circle cx="608.3" cy="148.8" r="3.1"/>
<circle cx="624.8" cy="148.1" r="3.1"/>
<circle cx="616.2" cy="153.2" r="3.1"/>
<circle cx="620.1" cy="157.9" r="3.1"/>
<circle cx="612.2" cy="161.0" r="3.1"/>
<circle cx="620.1" cy="161.8" r="3.1"/>
<circle cx="612.2" cy="166.5" r="3.1"/>
<circle cx="612.2" cy="171.2" r="3.1"/>
<circle cx="620.1" cy="174.4" r="3.1"/>
<circle cx="620.1" cy="187.7" r="3.1"/>
<circle cx="612.2" cy="192.1" r="3.1"/>
<circle cx="612.2" cy="199.7" r="3.1"/>
<circle cx="612.2" cy="202.3" r="3.1"/>
<circle cx="620.1" cy="200.7" r="3.1"/>
<circle cx="620.1" cy="204.9" r="3.1"/>
<circle cx="612.2" cy="212.8" r="3.1"/>
<circle cx="616.2" cy="223.8" r="3.1"/>
<circle cx="616.2" cy="236.4" r="3.1"/>
<line x1="83.70" y1="148.2" x2="121.90" y2="148.2" stroke="#000" stroke-width="2.7"/>
<line x1="126.40" y1="118.9" x2="164.60" y2="118.9" stroke="#000" stroke-width="2.7"/>
<line x1="167.85" y1="205.7" x2="206.05" y2="205.7" stroke="#000" stroke-width="2.7"/>
<line x1="214.90" y1="214.3" x2="253.10" y2="214.3" stroke="#000" stroke-width="2.7"/>
<line x1="257.20" y1="169.5" x2="295.40" y2="169.5" stroke="#000" stroke-width="2.7"/>
<line x1="299.80" y1="212.7" x2="338.00" y2="212.7" stroke="#000" stroke-width="2.7"/>
<line x1="341.20" y1="148.0" x2="379.40" y2="148.0" stroke="#000" stroke-width="2.7"/>
<line x1="381.10" y1="156.9" x2="419.30" y2="156.9" stroke="#000" stroke-width="2.7"/>
<line x1="425.10" y1="153.0" x2="463.30" y2="153.0" stroke="#000" stroke-width="2.7"/>
<line x1="468.40" y1="148.0" x2="506.60" y2="148.0" stroke="#000" stroke-width="2.7"/>
<line x1="511.90" y1="133.4" x2="550.10" y2="133.4" stroke="#000" stroke-width="2.7"/>
<line x1="554.50" y1="124.3" x2="592.70" y2="124.3" stroke="#000" stroke-width="2.7"/>
<line x1="597.80" y1="169.4" x2="636.00" y2="169.4" stroke="#000" stroke-width="2.7"/>
<text x="17" y="14.8" class="nm">a</text>
<text transform="translate(15.2,197.3) rotate(-90)" text-anchor="middle" class="mfi">MFI</text>
<line x1="78.9" y1="475.3" x2="78.9" y2="778.8" stroke="#000" stroke-width="2.8"/>
<line x1="73.4" y1="777.30" x2="78.9" y2="777.30" stroke="#000" stroke-width="2.6"/>
<text x="68.2" y="781.85" text-anchor="end" class="tk" font-size="12.65">1</text>
<line x1="73.4" y1="717.16" x2="78.9" y2="717.16" stroke="#000" stroke-width="2.6"/>
<text x="68.2" y="721.71" text-anchor="end" class="tk" font-size="12.65">10</text>
<line x1="73.4" y1="657.02" x2="78.9" y2="657.02" stroke="#000" stroke-width="2.6"/>
<text x="68.2" y="661.57" text-anchor="end" class="tk" font-size="12.65">100</text>
<line x1="73.4" y1="596.88" x2="78.9" y2="596.88" stroke="#000" stroke-width="2.6"/>
<text x="68.2" y="601.43" text-anchor="end" class="tk" font-size="12.65">1000</text>
<line x1="73.4" y1="536.74" x2="78.9" y2="536.74" stroke="#000" stroke-width="2.6"/>
<text x="68.2" y="541.29" text-anchor="end" class="tk" font-size="12.65">10000</text>
<line x1="73.4" y1="476.60" x2="78.9" y2="476.60" stroke="#000" stroke-width="2.6"/>
<text x="68.2" y="481.15" text-anchor="end" class="tk" font-size="12.65">100000</text>
<line x1="77.4" y1="777.3" x2="612.7" y2="777.3" stroke="#000" stroke-width="2.7"/>
<line x1="99.50" y1="777.3" x2="99.50" y2="782.5" stroke="#000" stroke-width="2.6"/>
<text x="100.90" y="488.9" text-anchor="middle" class="cn" font-size="14.5">63</text>
<text transform="translate(102.30,796.2) rotate(-45)" text-anchor="end" class="lb" font-size="14">nMSP3<tspan dy="-6.5" font-size="10.8">3D7</tspan></text>
<line x1="140.60" y1="777.3" x2="140.60" y2="782.5" stroke="#000" stroke-width="2.6"/>
<text x="139.30" y="488.9" text-anchor="middle" class="cn" font-size="14.5">37</text>
<text transform="translate(143.40,796.2) rotate(-45)" text-anchor="end" class="lb" font-size="14">cMSP3<tspan dy="-6.5" font-size="10.8">3D7</tspan></text>
<line x1="181.70" y1="777.3" x2="181.70" y2="782.5" stroke="#000" stroke-width="2.6"/>
<text x="182.00" y="488.9" text-anchor="middle" class="cn" font-size="14.5">53</text>
<text transform="translate(184.50,796.2) rotate(-45)" text-anchor="end" class="lb" font-size="14">nMSP3<tspan dy="-6.5" font-size="10.8">K</tspan><tspan dy="2.5" font-size="10.8">1</tspan></text>
<line x1="222.80" y1="777.3" x2="222.80" y2="782.5" stroke="#000" stroke-width="2.6"/>
<text x="221.80" y="488.9" text-anchor="middle" class="cn" font-size="14.5">41</text>
<text transform="translate(225.60,796.2) rotate(-45)" text-anchor="end" class="lb" font-size="14">MSP6</text>
<line x1="263.90" y1="777.3" x2="263.90" y2="782.5" stroke="#000" stroke-width="2.6"/>
<text x="262.10" y="488.9" text-anchor="middle" class="cn" font-size="14.5">47</text>
<text transform="translate(266.70,796.2) rotate(-45)" text-anchor="end" class="lb" font-size="14">MSP3.3</text>
<line x1="305.00" y1="777.3" x2="305.00" y2="782.5" stroke="#000" stroke-width="2.6"/>
<text x="302.70" y="488.9" text-anchor="middle" class="cn" font-size="14.5">27</text>
<text transform="translate(307.80,796.2) rotate(-45)" text-anchor="end" class="lb" font-size="14">MSP3.7</text>
<line x1="346.10" y1="777.3" x2="346.10" y2="782.5" stroke="#000" stroke-width="2.6"/>
<text x="344.20" y="488.9" text-anchor="middle" class="cn" font-size="14.5">40</text>
<text transform="translate(348.90,796.2) rotate(-45)" text-anchor="end" class="lb" font-size="14">GLURP-R0</text>
<line x1="387.20" y1="777.3" x2="387.20" y2="782.5" stroke="#000" stroke-width="2.6"/>
<text x="386.90" y="488.9" text-anchor="middle" class="cn" font-size="14.5">89</text>
<text transform="translate(390.00,796.2) rotate(-45)" text-anchor="end" class="lb" font-size="14">GLURP-R2</text>
<line x1="428.30" y1="777.3" x2="428.30" y2="782.5" stroke="#000" stroke-width="2.6"/>
<text x="428.60" y="488.9" text-anchor="middle" class="cn" font-size="14.5">38</text>
<text transform="translate(431.10,796.2) rotate(-45)" text-anchor="end" class="lb" font-size="14">SERA5</text>
<line x1="469.40" y1="777.3" x2="469.40" y2="782.5" stroke="#000" stroke-width="2.6"/>
<text x="467.20" y="488.9" text-anchor="middle" class="cn" font-size="14.5">76</text>
<text transform="translate(472.20,796.2) rotate(-45)" text-anchor="end" class="lb" font-size="14">Pf41</text>
<line x1="510.50" y1="777.3" x2="510.50" y2="782.5" stroke="#000" stroke-width="2.6"/>
<text x="508.90" y="488.9" text-anchor="middle" class="cn" font-size="14.5">92</text>
<text transform="translate(513.30,796.2) rotate(-45)" text-anchor="end" class="lb" font-size="14">MSPDBL1</text>
<line x1="551.60" y1="777.3" x2="551.60" y2="782.5" stroke="#000" stroke-width="2.6"/>
<text x="549.30" y="488.9" text-anchor="middle" class="cn" font-size="14.5">78</text>
<text transform="translate(554.40,796.2) rotate(-45)" text-anchor="end" class="lb" font-size="14">MSPDBL2</text>
<line x1="592.70" y1="777.3" x2="592.70" y2="782.5" stroke="#000" stroke-width="2.6"/>
<text x="593.00" y="488.9" text-anchor="middle" class="cn" font-size="14.5">64</text>
<text transform="translate(595.50,796.2) rotate(-45)" text-anchor="end" class="lb" font-size="14">MSPDBL1<tspan dx="1.5" dy="3" font-size="10.6">Leu</tspan></text>
<circle cx="95.2" cy="514.8" r="3.1"/>
<circle cx="95.2" cy="517.9" r="3.1"/>
<circle cx="95.2" cy="521.1" r="3.1"/>
<circle cx="95.2" cy="524.2" r="3.1"/>
<circle cx="103.2" cy="514.4" r="3.1"/>
<circle cx="103.2" cy="517.6" r="3.1"/>
<circle cx="103.2" cy="520.7" r="3.1"/>
<circle cx="103.2" cy="523.9" r="3.1"/>
<circle cx="103.2" cy="525.9" r="3.1"/>
<circle cx="99.0" cy="513.7" r="3.1"/>
<circle cx="100.8" cy="530.1" r="3.1"/>
<circle cx="96.9" cy="532.9" r="3.1"/>
<circle cx="95.2" cy="535.7" r="3.1"/>
<circle cx="95.2" cy="538.5" r="3.1"/>
<circle cx="103.2" cy="535.0" r="3.1"/>
<circle cx="100.8" cy="542.4" r="3.1"/>
<circle cx="97.3" cy="544.5" r="3.1"/>
<circle cx="104.3" cy="544.5" r="3.1"/>
<circle cx="91.7" cy="547.9" r="3.1"/>
<circle cx="107.0" cy="547.6" r="3.1"/>
<circle cx="99.4" cy="548.3" r="3.1"/>
<circle cx="95.2" cy="546.9" r="3.1"/>
<circle cx="102.9" cy="546.9" r="3.1"/>
<circle cx="91.7" cy="554.9" r="3.1"/>
<circle cx="95.5" cy="553.5" r="3.1"/>
<circle cx="103.6" cy="553.5" r="3.1"/>
<circle cx="107.0" cy="555.6" r="3.1"/>
<circle cx="99.4" cy="558.4" r="3.1"/>
<circle cx="95.5" cy="563.0" r="3.1"/>
<circle cx="103.2" cy="564.7" r="3.1"/>
<circle cx="95.2" cy="563.1" r="3.1"/>
<circle cx="95.2" cy="566.6" r="3.1"/>
<circle cx="95.2" cy="569.8" r="3.1"/>
<circle cx="103.2" cy="565.6" r="3.1"/>
<circle cx="103.2" cy="568.7" r="3.1"/>
<circle cx="103.2" cy="572.2" r="3.1"/>
<circle cx="91.7" cy="573.6" r="3.1"/>
<circle cx="99.0" cy="578.5" r="3.1"/>
<circle cx="106.7" cy="577.8" r="3.1"/>
<circle cx="91.3" cy="586.2" r="3.1"/>
<circle cx="99.0" cy="587.2" r="3.1"/>
<circle cx="106.7" cy="583.7" r="3.1"/>
<circle cx="95.5" cy="596.0" r="3.1"/>
<circle cx="103.2" cy="594.2" r="3.1"/>
<circle cx="99.4" cy="599.1" r="3.1"/>
<circle cx="95.2" cy="602.6" r="3.1"/>
<circle cx="103.6" cy="601.9" r="3.1"/>
<circle cx="91.3" cy="605.7" r="3.1"/>
<circle cx="99.0" cy="607.5" r="3.1"/>
<circle cx="107.0" cy="605.0" r="3.1"/>
<circle cx="91.3" cy="621.6" r="3.1"/>
<circle cx="95.6" cy="618.9" r="3.1"/>
<circle cx="103.4" cy="618.9" r="3.1"/>
<circle cx="107.0" cy="621.6" r="3.1"/>
<circle cx="99.5" cy="627.4" r="3.1"/>
<circle cx="99.5" cy="653.8" r="3.1"/>
<circle cx="140.6" cy="518.5" r="3.1"/>
<circle cx="140.6" cy="529.5" r="3.1"/>
<circle cx="136.4" cy="535.8" r="3.1"/>
<circle cx="144.7" cy="541.1" r="3.1"/>
<circle cx="136.4" cy="547.1" r="3.1"/>
<circle cx="144.7" cy="546.3" r="3.1"/>
<circle cx="140.6" cy="551.8" r="3.1"/>
<circle cx="136.4" cy="552.5" r="3.1"/>
<circle cx="144.7" cy="554.1" r="3.1"/>
<circle cx="132.1" cy="559.6" r="3.1"/>
<circle cx="148.6" cy="557.3" r="3.1"/>
<circle cx="140.6" cy="561.2" r="3.1"/>
<circle cx="136.4" cy="567.5" r="3.1"/>
<circle cx="132.1" cy="570.3" r="3.1"/>
<circle cx="148.6" cy="570.3" r="3.1"/>
<circle cx="144.7" cy="569.0" r="3.1"/>
<circle cx="140.6" cy="573.4" r="3.1"/>
<circle cx="140.6" cy="581.6" r="3.1"/>
<circle cx="132.1" cy="589.1" r="3.1"/>
<circle cx="136.4" cy="589.4" r="3.1"/>
<circle cx="140.6" cy="588.6" r="3.1"/>
<circle cx="144.7" cy="589.4" r="3.1"/>
<circle cx="148.6" cy="589.7" r="3.1"/>
<circle cx="136.4" cy="594.1" r="3.1"/>
<circle cx="144.7" cy="594.9" r="3.1"/>
<circle cx="132.1" cy="602.7" r="3.1"/>
<circle cx="144.7" cy="601.2" r="3.1"/>
<circle cx="140.6" cy="609.0" r="3.1"/>
<circle cx="132.1" cy="612.6" r="3.1"/>
<circle cx="148.6" cy="609.8" r="3.1"/>
<circle cx="148.6" cy="612.6" r="3.1"/>
<circle cx="140.6" cy="617.6" r="3.1"/>
<circle cx="136.4" cy="621.6" r="3.1"/>
<circle cx="144.7" cy="622.4" r="3.1"/>
<circle cx="132.1" cy="624.7" r="3.1"/>
<circle cx="148.6" cy="625.5" r="3.1"/>
<circle cx="140.6" cy="627.8" r="3.1"/>
<circle cx="136.4" cy="635.0" r="3.1"/>
<circle cx="144.7" cy="636.3" r="3.1"/>
<circle cx="136.4" cy="637.8" r="3.1"/>
<circle cx="132.9" cy="641.3" r="3.1"/>
<circle cx="144.7" cy="638.6" r="3.1"/>
<circle cx="140.6" cy="648.0" r="3.1"/>
<circle cx="148.3" cy="646.0" r="3.1"/>
<circle cx="148.3" cy="653.2" r="3.1"/>
<circle cx="132.9" cy="655.9" r="3.1"/>
<circle cx="140.6" cy="657.9" r="3.1"/>
<circle cx="140.6" cy="676.7" r="3.1"/>
<circle cx="140.6" cy="694.0" r="3.1"/>
<circle cx="140.6" cy="732.7" r="3.1"/>
<circle cx="173.7" cy="512.6" r="3.1"/>
<circle cx="181.7" cy="512.6" r="3.1"/>
<circle cx="189" cy="511.2" r="3.1"/>
<circle cx="179" cy="515.5" r="3.1"/>
<circle cx="184.5" cy="515.5" r="3.1"/>
<circle cx="177.5" cy="520" r="3.1"/>
<circle cx="185.5" cy="519.6" r="3.1"/>
<circle cx="173.7" cy="526.6" r="3.1"/>
<circle cx="189.4" cy="526.6" r="3.1"/>
<circle cx="181.7" cy="529.7" r="3.1"/>
<circle cx="185.5" cy="530.8" r="3.1"/>
<circle cx="177.5" cy="534.2" r="3.1"/>
<circle cx="185.5" cy="534.9" r="3.1"/>
<circle cx="177.5" cy="538.8" r="3.1"/>
<circle cx="181.7" cy="538.8" r="3.1"/>
<circle cx="184.8" cy="540.9" r="3.1"/>
<circle cx="189.4" cy="543" r="3.1"/>
<circle cx="173.7" cy="546.1" r="3.1"/>
<circle cx="181.7" cy="547.8" r="3.1"/>
<circle cx="173.7" cy="552" r="3.1"/>
<circle cx="177.5" cy="551.3" r="3.1"/>
<circle cx="185.5" cy="551.3" r="3.1"/>
<circle cx="189.4" cy="553.4" r="3.1"/>
<circle cx="171.9" cy="558.3" r="3.1"/>
<circle cx="181.7" cy="556.2" r="3.1"/>
<circle cx="191.1" cy="559" r="3.1"/>
<circle cx="177.5" cy="563" r="3.1"/>
<circle cx="185.5" cy="563.5" r="3.1"/>
<circle cx="173.8" cy="578.4" r="3.1"/>
<circle cx="181.6" cy="585.0" r="3.1"/>
<circle cx="189.5" cy="582.8" r="3.1"/>
<circle cx="177.6" cy="594.9" r="3.1"/>
<circle cx="185.4" cy="595.7" r="3.1"/>
<circle cx="173.8" cy="599.6" r="3.1"/>
<circle cx="185.4" cy="600.4" r="3.1"/>
<circle cx="177.6" cy="608.2" r="3.1"/>
<circle cx="181.6" cy="607.5" r="3.1"/>
<circle cx="189.5" cy="605.4" r="3.1"/>
<circle cx="173.8" cy="612.6" r="3.1"/>
<circle cx="189.0" cy="611.4" r="3.1"/>
<circle cx="181.6" cy="615.8" r="3.1"/>
<circle cx="181.6" cy="631.5" r="3.1"/>
<circle cx="181.6" cy="640.7" r="3.1"/>
<circle cx="181.6" cy="726.9" r="3.1"/>
<circle cx="222.7" cy="524.8" r="3.1"/>
<circle cx="214.9" cy="540.0" r="3.1"/>
<circle cx="230.6" cy="541.6" r="3.1"/>
<circle cx="222.7" cy="545.8" r="3.1"/>
<circle cx="218.8" cy="548.9" r="3.1"/>
<circle cx="226.7" cy="555.2" r="3.1"/>
<circle cx="218.8" cy="560.4" r="3.1"/>
<circle cx="226.7" cy="562.0" r="3.1"/>
<circle cx="218.8" cy="564.3" r="3.1"/>
<circle cx="226.7" cy="565.1" r="3.1"/>
<circle cx="218.8" cy="569.0" r="3.1"/>
<circle cx="226.7" cy="569.8" r="3.1"/>
<circle cx="218.8" cy="572.9" r="3.1"/>
<circle cx="226.7" cy="573.4" r="3.1"/>
<circle cx="222.7" cy="578.4" r="3.1"/>
<circle cx="214.9" cy="581.6" r="3.1"/>
<circle cx="230.6" cy="582.4" r="3.1"/>
<circle cx="222.7" cy="585.5" r="3.1"/>
<circle cx="222.7" cy="591.0" r="3.1"/>
<circle cx="214.9" cy="594.9" r="3.1"/>
<circle cx="218.8" cy="597.3" r="3.1"/>
<circle cx="226.7" cy="595.7" r="3.1"/>
<circle cx="230.6" cy="597.3" r="3.1"/>
<circle cx="214.9" cy="602.0" r="3.1"/>
<circle cx="222.7" cy="600.4" r="3.1"/>
<circle cx="226.7" cy="602.0" r="3.1"/>
<circle cx="230.6" cy="604.3" r="3.1"/>
<circle cx="222.7" cy="607.0" r="3.1"/>
<circle cx="218.8" cy="612.9" r="3.1"/>
<circle cx="226.7" cy="614.5" r="3.1"/>
<circle cx="214.9" cy="621.6" r="3.1"/>
<circle cx="218.8" cy="619.2" r="3.1"/>
<circle cx="226.7" cy="620.8" r="3.1"/>
<circle cx="222.7" cy="624.7" r="3.1"/>
<circle cx="230.6" cy="623.9" r="3.1"/>
<circle cx="230.6" cy="629.4" r="3.1"/>
<circle cx="214.9" cy="632.4" r="3.1"/>
<circle cx="222.7" cy="632.8" r="3.1"/>
<circle cx="214.9" cy="642.2" r="3.1"/>
<circle cx="230.3" cy="643.8" r="3.1"/>
<circle cx="222.7" cy="649.1" r="3.1"/>
<circle cx="259.8" cy="557.8" r="3.1"/>
<circle cx="267.8" cy="560.2" r="3.1"/>
<circle cx="267.8" cy="567.6" r="3.1"/>
<circle cx="259.8" cy="572.8" r="3.1"/>
<circle cx="264.0" cy="573.7" r="3.1"/>
<circle cx="267.8" cy="573.3" r="3.1"/>
<circle cx="259.8" cy="576.6" r="3.1"/>
<circle cx="259.8" cy="580.8" r="3.1"/>
<circle cx="267.8" cy="577.3" r="3.1"/>
<circle cx="267.8" cy="581.5" r="3.1"/>
<circle cx="259.8" cy="586.8" r="3.1"/>
<circle cx="259.8" cy="590.2" r="3.1"/>
<circle cx="267.8" cy="587.8" r="3.1"/>
<circle cx="259.8" cy="595.8" r="3.1"/>
<circle cx="267.8" cy="595.5" r="3.1"/>
<circle cx="255.9" cy="599.7" r="3.1"/>
<circle cx="254.2" cy="603.8" r="3.1"/>
<circle cx="264.0" cy="601.1" r="3.1"/>
<circle cx="271.6" cy="599.3" r="3.1"/>
<circle cx="273.4" cy="603.8" r="3.1"/>
<circle cx="260.5" cy="608.7" r="3.1"/>
<circle cx="266.7" cy="608.0" r="3.1"/>
<circle cx="262.2" cy="612.9" r="3.1"/>
<circle cx="260.0" cy="539.5" r="3.1"/>
<circle cx="267.9" cy="540.0" r="3.1"/>
<circle cx="264.0" cy="550.2" r="3.1"/>
<circle cx="260.0" cy="616.9" r="3.1"/>
<circle cx="267.9" cy="617.3" r="3.1"/>
<circle cx="260.0" cy="621.6" r="3.1"/>
<circle cx="267.9" cy="621.6" r="3.1"/>
<circle cx="256.1" cy="627.8" r="3.1"/>
<circle cx="264.0" cy="629.4" r="3.1"/>
<circle cx="271.8" cy="627.8" r="3.1"/>
<circle cx="256.1" cy="636.0" r="3.1"/>
<circle cx="271.8" cy="636.0" r="3.1"/>
<circle cx="264.0" cy="642.2" r="3.1"/>
<circle cx="259.6" cy="644.9" r="3.1"/>
<circle cx="256.1" cy="648.5" r="3.1"/>
<circle cx="267.9" cy="646.5" r="3.1"/>
<circle cx="271.8" cy="648.8" r="3.1"/>
<circle cx="264.0" cy="651.2" r="3.1"/>
<circle cx="260.0" cy="655.4" r="3.1"/>
<circle cx="267.9" cy="661.4" r="3.1"/>
<circle cx="260.0" cy="672.7" r="3.1"/>
<circle cx="267.9" cy="672.0" r="3.1"/>
<circle cx="305.1" cy="512.9" r="3.1"/>
<circle cx="297.2" cy="536.9" r="3.1"/>
<circle cx="305.1" cy="539.5" r="3.1"/>
<circle cx="312.9" cy="535.8" r="3.1"/>
<circle cx="297.2" cy="544.7" r="3.1"/>
<circle cx="312.9" cy="544.7" r="3.1"/>
<circle cx="305.1" cy="549.9" r="3.1"/>
<circle cx="297.2" cy="553.3" r="3.1"/>
<circle cx="312.9" cy="552.5" r="3.1"/>
<circle cx="305.1" cy="557.7" r="3.1"/>
<circle cx="308.7" cy="563.5" r="3.1"/>
<circle cx="301.6" cy="567.5" r="3.1"/>
<circle cx="297.2" cy="572.9" r="3.1"/>
<circle cx="312.6" cy="570.6" r="3.1"/>
<circle cx="305.1" cy="577.6" r="3.1"/>
<circle cx="297.2" cy="586.0" r="3.1"/>
<circle cx="301.6" cy="584.7" r="3.1"/>
<circle cx="308.7" cy="585.5" r="3.1"/>
<circle cx="312.9" cy="589.1" r="3.1"/>
<circle cx="301.6" cy="590.7" r="3.1"/>
<circle cx="308.7" cy="591.0" r="3.1"/>
<circle cx="301.6" cy="595.7" r="3.1"/>
<circle cx="308.7" cy="597.3" r="3.1"/>
<circle cx="297.2" cy="604.3" r="3.1"/>
<circle cx="312.9" cy="605.9" r="3.1"/>
<circle cx="305.1" cy="607.5" r="3.1"/>
<circle cx="301.6" cy="612.2" r="3.1"/>
<circle cx="308.7" cy="611.4" r="3.1"/>
<circle cx="301.6" cy="616.1" r="3.1"/>
<circle cx="308.7" cy="616.1" r="3.1"/>
<circle cx="301.6" cy="623.9" r="3.1"/>
<circle cx="308.7" cy="624.7" r="3.1"/>
<circle cx="297.2" cy="628.6" r="3.1"/>
<circle cx="305.1" cy="627.1" r="3.1"/>
<circle cx="312.9" cy="629.4" r="3.1"/>
<circle cx="297.2" cy="634.7" r="3.1"/>
<circle cx="305.1" cy="636.3" r="3.1"/>
<circle cx="301.6" cy="641.8" r="3.1"/>
<circle cx="306.3" cy="639.7" r="3.1"/>
<circle cx="300.8" cy="644.9" r="3.1"/>
<circle cx="308.7" cy="643.3" r="3.1"/>
<circle cx="304.7" cy="659.8" r="3.1"/>
<circle cx="304.7" cy="677.8" r="3.1"/>
<circle cx="338.4" cy="516.9" r="3.1"/>
<circle cx="353.8" cy="519.1" r="3.1"/>
<circle cx="346.0" cy="523.5" r="3.1"/>
<circle cx="342.0" cy="531.1" r="3.1"/>
<circle cx="349.9" cy="531.1" r="3.1"/>
<circle cx="338.4" cy="537.3" r="3.1"/>
<circle cx="353.8" cy="537.6" r="3.1"/>
<circle cx="346.0" cy="544.2" r="3.1"/>
<circle cx="342.0" cy="548.6" r="3.1"/>
<circle cx="349.9" cy="549.4" r="3.1"/>
<circle cx="342.0" cy="552.5" r="3.1"/>
<circle cx="349.9" cy="553.3" r="3.1"/>
<circle cx="338.4" cy="558.8" r="3.1"/>
<circle cx="346.0" cy="557.3" r="3.1"/>
<circle cx="353.8" cy="558.8" r="3.1"/>
<circle cx="342.0" cy="562.7" r="3.1"/>
<circle cx="346.0" cy="563.5" r="3.1"/>
<circle cx="349.9" cy="564.6" r="3.1"/>
<circle cx="338.4" cy="570.6" r="3.1"/>
<circle cx="346.0" cy="569.0" r="3.1"/>
<circle cx="353.8" cy="569.8" r="3.1"/>
<circle cx="346.0" cy="572.9" r="3.1"/>
<circle cx="349.9" cy="575.3" r="3.1"/>
<circle cx="342.0" cy="624.7" r="3.1"/>
<circle cx="349.9" cy="625.5" r="3.1"/>
<circle cx="338.4" cy="630.2" r="3.1"/>
<circle cx="346.0" cy="628.6" r="3.1"/>
<circle cx="342.1" cy="582.5" r="3.1"/>
<circle cx="342.1" cy="590.0" r="3.1"/>
<circle cx="342.1" cy="595.9" r="3.1"/>
<circle cx="342.1" cy="600.8" r="3.1"/>
<circle cx="342.1" cy="606.4" r="3.1"/>
<circle cx="342.1" cy="610.6" r="3.1"/>
<circle cx="342.1" cy="616.5" r="3.1"/>
<circle cx="350.0" cy="591.1" r="3.1"/>
<circle cx="350.0" cy="594.0" r="3.1"/>
<circle cx="350.0" cy="599.4" r="3.1"/>
<circle cx="350.0" cy="602.2" r="3.1"/>
<circle cx="350.0" cy="608.5" r="3.1"/>
<circle cx="350.0" cy="611.3" r="3.1"/>
<circle cx="342.0" cy="635.5" r="3.1"/>
<circle cx="346.0" cy="634.4" r="3.1"/>
<circle cx="353.8" cy="634.4" r="3.1"/>
<circle cx="349.9" cy="630.8" r="3.1"/>
<circle cx="349.9" cy="642.2" r="3.1"/>
<circle cx="349.9" cy="662.9" r="3.1"/>
<circle cx="342.0" cy="670.0" r="3.1"/>
<circle cx="346.0" cy="703.7" r="3.1"/>
<circle cx="346.0" cy="758.9" r="3.1"/>
<circle cx="378.1" cy="512.5" r="3.1"/>
<circle cx="382.8" cy="513.3" r="3.1"/>
<circle cx="387.5" cy="512.2" r="3.1"/>
<circle cx="391.5" cy="513.3" r="3.1"/>
<circle cx="396.9" cy="511.8" r="3.1"/>
<circle cx="378.1" cy="515.7" r="3.1"/>
<circle cx="396.9" cy="515.7" r="3.1"/>
<circle cx="383.6" cy="520.4" r="3.1"/>
<circle cx="387.5" cy="519.6" r="3.1"/>
<circle cx="391.5" cy="521.2" r="3.1"/>
<circle cx="383.6" cy="525.1" r="3.1"/>
<circle cx="387.5" cy="524.3" r="3.1"/>
<circle cx="391.5" cy="525.1" r="3.1"/>
<circle cx="383.6" cy="530.6" r="3.1"/>
<circle cx="391.5" cy="530.6" r="3.1"/>
<circle cx="387.2" cy="539.5" r="3.1"/>
<circle cx="387.2" cy="546.3" r="3.1"/>
<circle cx="382.8" cy="548.6" r="3.1"/>
<circle cx="391.5" cy="547.1" r="3.1"/>
<circle cx="378.9" cy="551.0" r="3.1"/>
<circle cx="395.4" cy="550.5" r="3.1"/>
<circle cx="387.2" cy="553.3" r="3.1"/>
<circle cx="377.3" cy="556.2" r="3.1"/>
<circle cx="383.6" cy="555.7" r="3.1"/>
<circle cx="391.5" cy="554.9" r="3.1"/>
<circle cx="396.9" cy="556.2" r="3.1"/>
<circle cx="383.6" cy="559.6" r="3.1"/>
<circle cx="387.2" cy="558.8" r="3.1"/>
<circle cx="383.6" cy="563.5" r="3.1"/>
<circle cx="391.5" cy="563.5" r="3.1"/>
<circle cx="387.2" cy="566.7" r="3.1"/>
<circle cx="378.9" cy="570.6" r="3.1"/>
<circle cx="383.6" cy="569.0" r="3.1"/>
<circle cx="387.5" cy="571.4" r="3.1"/>
<circle cx="391.5" cy="569.8" r="3.1"/>
<circle cx="395.4" cy="569.0" r="3.1"/>
<circle cx="383.3" cy="581.3" r="3.1"/>
<circle cx="391.1" cy="580.8" r="3.1"/>
<circle cx="387.2" cy="592.5" r="3.1"/>
<circle cx="387.2" cy="600.4" r="3.1"/>
<circle cx="383.3" cy="643.8" r="3.1"/>
<circle cx="391.1" cy="648.5" r="3.1"/>
<circle cx="387.2" cy="696.7" r="3.1"/>
<circle cx="420.4" cy="513.3" r="3.1"/>
<circle cx="424.5" cy="512.2" r="3.1"/>
<circle cx="431.9" cy="512.2" r="3.1"/>
<circle cx="436.1" cy="513.8" r="3.1"/>
<circle cx="420.4" cy="517.6" r="3.1"/>
<circle cx="436.1" cy="516.9" r="3.1"/>
<circle cx="428.3" cy="523.2" r="3.1"/>
<circle cx="420.4" cy="529.0" r="3.1"/>
<circle cx="428.3" cy="531.4" r="3.1"/>
<circle cx="431.9" cy="532.2" r="3.1"/>
<circle cx="436.1" cy="530.6" r="3.1"/>
<circle cx="420.4" cy="537.6" r="3.1"/>
<circle cx="424.5" cy="537.3" r="3.1"/>
<circle cx="428.3" cy="539.2" r="3.1"/>
<circle cx="436.1" cy="537.6" r="3.1"/>
<circle cx="420.4" cy="545.5" r="3.1"/>
<circle cx="436.1" cy="546.3" r="3.1"/>
<circle cx="428.3" cy="549.9" r="3.1"/>
<circle cx="424.5" cy="552.5" r="3.1"/>
<circle cx="431.9" cy="553.3" r="3.1"/>
<circle cx="424.5" cy="556.5" r="3.1"/>
<circle cx="431.9" cy="557.3" r="3.1"/>
<circle cx="420.4" cy="562.0" r="3.1"/>
<circle cx="428.3" cy="560.4" r="3.1"/>
<circle cx="431.9" cy="562.0" r="3.1"/>
<circle cx="428.3" cy="567.5" r="3.1"/>
<circle cx="436.1" cy="566.7" r="3.1"/>
<circle cx="424.5" cy="580.0" r="3.1"/>
<circle cx="431.9" cy="580.8" r="3.1"/>
<circle cx="431.9" cy="586.3" r="3.1"/>
<circle cx="424.5" cy="589.7" r="3.1"/>
<circle cx="424.5" cy="593.3" r="3.1"/>
<circle cx="431.9" cy="593.3" r="3.1"/>
<circle cx="424.5" cy="599.6" r="3.1"/>
<circle cx="431.9" cy="598.8" r="3.1"/>
<circle cx="431.9" cy="604.3" r="3.1"/>
<circle cx="431.9" cy="609.0" r="3.1"/>
<circle cx="424.5" cy="615.3" r="3.1"/>
<circle cx="424.5" cy="626.3" r="3.1"/>
<circle cx="431.9" cy="627.8" r="3.1"/>
<circle cx="420.4" cy="631.9" r="3.1"/>
<circle cx="435.8" cy="635.5" r="3.1"/>
<circle cx="428.3" cy="639.1" r="3.1"/>
<circle cx="424.5" cy="643.8" r="3.1"/>
<circle cx="420.4" cy="650.4" r="3.1"/>
<circle cx="431.9" cy="647.6" r="3.1"/>
<circle cx="435.8" cy="651.2" r="3.1"/>
<circle cx="428.3" cy="657.0" r="3.1"/>
<circle cx="424.5" cy="663.7" r="3.1"/>
<circle cx="431.9" cy="669.2" r="3.1"/>
<circle cx="428.3" cy="689.9" r="3.1"/>
<circle cx="469.4" cy="529.0" r="3.1"/>
<circle cx="465.3" cy="548.6" r="3.1"/>
<circle cx="473.1" cy="554.1" r="3.1"/>
<circle cx="469.4" cy="566.7" r="3.1"/>
<circle cx="461.7" cy="582.4" r="3.1"/>
<circle cx="469.4" cy="582.8" r="3.1"/>
<circle cx="477.1" cy="580.8" r="3.1"/>
<circle cx="461.7" cy="589.4" r="3.1"/>
<circle cx="477.1" cy="590.7" r="3.1"/>
<circle cx="469.4" cy="593.3" r="3.1"/>
<circle cx="465.6" cy="598.8" r="3.1"/>
<circle cx="473.5" cy="597.3" r="3.1"/>
<circle cx="465.6" cy="602.0" r="3.1"/>
<circle cx="473.5" cy="602.7" r="3.1"/>
<circle cx="469.4" cy="603.5" r="3.1"/>
<circle cx="465.6" cy="608.2" r="3.1"/>
<circle cx="473.5" cy="608.2" r="3.1"/>
<circle cx="465.6" cy="612.6" r="3.1"/>
<circle cx="469.4" cy="624.7" r="3.1"/>
<circle cx="473.5" cy="628.6" r="3.1"/>
<circle cx="473.1" cy="628.7" r="3.1"/>
<circle cx="465.5" cy="634.5" r="3.1"/>
<circle cx="465.5" cy="637" r="3.1"/>
<circle cx="473.1" cy="637" r="3.1"/>
<circle cx="465.5" cy="643.1" r="3.1"/>
<circle cx="473.1" cy="643.5" r="3.1"/>
<circle cx="459.7" cy="646.4" r="3.1"/>
<circle cx="478.8" cy="646.4" r="3.1"/>
<circle cx="465.5" cy="650.3" r="3.1"/>
<circle cx="468.7" cy="648.5" r="3.1"/>
<circle cx="473.1" cy="650.3" r="3.1"/>
<circle cx="473.1" cy="654" r="3.1"/>
<circle cx="465.5" cy="655.4" r="3.1"/>
<circle cx="461.5" cy="659" r="3.1"/>
<circle cx="468.7" cy="659.7" r="3.1"/>
<circle cx="477" cy="658.6" r="3.1"/>
<circle cx="465.5" cy="664" r="3.1"/>
<circle cx="461.5" cy="668.7" r="3.1"/>
<circle cx="468.7" cy="666.5" r="3.1"/>
<circle cx="473.1" cy="668.4" r="3.1"/>
<circle cx="477.4" cy="670.2" r="3.1"/>
<circle cx="465.5" cy="672.7" r="3.1"/>
<circle cx="473.1" cy="672.7" r="3.1"/>
<circle cx="465.5" cy="677.9" r="3.1"/>
<circle cx="473.1" cy="675" r="3.1"/>
<circle cx="473.1" cy="679.7" r="3.1"/>
<circle cx="473.1" cy="682.2" r="3.1"/>
<circle cx="473.1" cy="686.2" r="3.1"/>
<circle cx="465.5" cy="685.1" r="3.1"/>
<circle cx="465.5" cy="688.3" r="3.1"/>
<circle cx="505.3" cy="511.3" r="3.1"/>
<circle cx="511.6" cy="512.3" r="3.1"/>
<circle cx="516.9" cy="511.3" r="3.1"/>
<circle cx="505.6" cy="519.6" r="3.1"/>
<circle cx="515.2" cy="519.6" r="3.1"/>
<circle cx="510.2" cy="522.9" r="3.1"/>
<circle cx="502.0" cy="513.6" r="3.1"/>
<circle cx="508.6" cy="509.6" r="3.1"/>
<circle cx="514.2" cy="510.6" r="3.1"/>
<circle cx="519.5" cy="513.9" r="3.1"/>
<circle cx="500.6" cy="518.2" r="3.1"/>
<circle cx="510.2" cy="517.2" r="3.1"/>
<circle cx="520.8" cy="518.6" r="3.1"/>
<circle cx="503.3" cy="521.2" r="3.1"/>
<circle cx="507.6" cy="521.6" r="3.1"/>
<circle cx="513.9" cy="523.2" r="3.1"/>
<circle cx="517.9" cy="521.6" r="3.1"/>
<circle cx="506.6" cy="526.9" r="3.1"/>
<circle cx="517.9" cy="528.8" r="3.1"/>
<circle cx="502.3" cy="530.2" r="3.1"/>
<circle cx="509.9" cy="531.2" r="3.1"/>
<circle cx="500.6" cy="536.1" r="3.1"/>
<circle cx="510.6" cy="534.8" r="3.1"/>
<circle cx="520.2" cy="537.1" r="3.1"/>
<circle cx="502.6" cy="541.8" r="3.1"/>
<circle cx="506.9" cy="540.1" r="3.1"/>
<circle cx="510.9" cy="540.8" r="3.1"/>
<circle cx="514.9" cy="542.8" r="3.1"/>
<circle cx="518.9" cy="541.8" r="3.1"/>
<circle cx="502.6" cy="548.4" r="3.1"/>
<circle cx="506.6" cy="547.4" r="3.1"/>
<circle cx="510.6" cy="550.4" r="3.1"/>
<circle cx="518.2" cy="548.1" r="3.1"/>
<circle cx="506.6" cy="558.0" r="3.1"/>
<circle cx="514.2" cy="556.0" r="3.1"/>
<circle cx="510.7" cy="570.3" r="3.1"/>
<circle cx="502.9" cy="583.9" r="3.1"/>
<circle cx="510.7" cy="585.5" r="3.1"/>
<circle cx="518.6" cy="583.9" r="3.1"/>
<circle cx="506.8" cy="590.2" r="3.1"/>
<circle cx="514.7" cy="594.1" r="3.1"/>
<circle cx="506.8" cy="603.5" r="3.1"/>
<circle cx="514.7" cy="602.7" r="3.1"/>
<circle cx="547.6" cy="514.9" r="3.1"/>
<circle cx="551.5" cy="513.3" r="3.1"/>
<circle cx="555.5" cy="514.9" r="3.1"/>
<circle cx="551.5" cy="518.8" r="3.1"/>
<circle cx="543.7" cy="524.3" r="3.1"/>
<circle cx="547.6" cy="523.5" r="3.1"/>
<circle cx="555.5" cy="522.7" r="3.1"/>
<circle cx="559.4" cy="524.3" r="3.1"/>
<circle cx="543.7" cy="528.2" r="3.1"/>
<circle cx="551.5" cy="527.5" r="3.1"/>
<circle cx="561.7" cy="528.2" r="3.1"/>
<circle cx="547.6" cy="532.2" r="3.1"/>
<circle cx="551.5" cy="531.4" r="3.1"/>
<circle cx="555.5" cy="532.9" r="3.1"/>
<circle cx="559.4" cy="532.2" r="3.1"/>
<circle cx="542.1" cy="536.9" r="3.1"/>
<circle cx="551.5" cy="536.1" r="3.1"/>
<circle cx="560.9" cy="538.4" r="3.1"/>
<circle cx="547.6" cy="541.6" r="3.1"/>
<circle cx="555.5" cy="541.6" r="3.1"/>
<circle cx="551.5" cy="540.0" r="3.1"/>
<circle cx="551.5" cy="547.1" r="3.1"/>
<circle cx="547.6" cy="552.5" r="3.1"/>
<circle cx="555.5" cy="552.5" r="3.1"/>
<circle cx="543.7" cy="559.3" r="3.1"/>
<circle cx="559.4" cy="558.8" r="3.1"/>
<circle cx="551.5" cy="562.0" r="3.1"/>
<circle cx="543.7" cy="568.2" r="3.1"/>
<circle cx="559.4" cy="568.2" r="3.1"/>
<circle cx="551.5" cy="571.8" r="3.1"/>
<circle cx="543.7" cy="577.6" r="3.1"/>
<circle cx="559.4" cy="577.2" r="3.1"/>
<circle cx="551.5" cy="581.6" r="3.1"/>
<circle cx="551.5" cy="591.8" r="3.1"/>
<circle cx="543.7" cy="607.9" r="3.1"/>
<circle cx="551.5" cy="609.0" r="3.1"/>
<circle cx="559.4" cy="604.8" r="3.1"/>
<circle cx="555.5" cy="622.4" r="3.1"/>
<circle cx="547.6" cy="627.1" r="3.1"/>
<circle cx="551.5" cy="654.3" r="3.1"/>
<circle cx="551.5" cy="684.6" r="3.1"/>
<circle cx="547.6" cy="517.3" r="3.1"/>
<circle cx="555.5" cy="518" r="3.1"/>
<circle cx="551.7" cy="522.5" r="3.1"/>
<circle cx="585.1" cy="521.7" r="3.1"/>
<circle cx="600.5" cy="519.6" r="3.1"/>
<circle cx="592.6" cy="524.8" r="3.1"/>
<circle cx="585.1" cy="529.5" r="3.1"/>
<circle cx="592.6" cy="534.5" r="3.1"/>
<circle cx="600.5" cy="533.3" r="3.1"/>
<circle cx="600.5" cy="538.9" r="3.1"/>
<circle cx="585.1" cy="541.1" r="3.1"/>
<circle cx="592.6" cy="542.4" r="3.1"/>
<circle cx="589.0" cy="544.7" r="3.1"/>
<circle cx="585.1" cy="549.4" r="3.1"/>
<circle cx="596.4" cy="547.9" r="3.1"/>
<circle cx="600.5" cy="550.5" r="3.1"/>
<circle cx="592.6" cy="552.6" r="3.1"/>
<circle cx="589.0" cy="555.7" r="3.1"/>
<circle cx="596.4" cy="554.9" r="3.1"/>
<circle cx="585.1" cy="559.6" r="3.1"/>
<circle cx="592.6" cy="559.3" r="3.1"/>
<circle cx="600.5" cy="559.3" r="3.1"/>
<circle cx="589.0" cy="563.6" r="3.1"/>
<circle cx="596.4" cy="564.3" r="3.1"/>
<circle cx="592.6" cy="566.7" r="3.1"/>
<circle cx="583.2" cy="571.9" r="3.1"/>
<circle cx="589.0" cy="569.8" r="3.1"/>
<circle cx="596.4" cy="569.1" r="3.1"/>
<circle cx="602.1" cy="571.9" r="3.1"/>
<circle cx="589.0" cy="576.1" r="3.1"/>
<circle cx="596.4" cy="576.6" r="3.1"/>
<circle cx="585.1" cy="580.0" r="3.1"/>
<circle cx="592.6" cy="578.2" r="3.1"/>
<circle cx="600.5" cy="582.9" r="3.1"/>
<circle cx="592.6" cy="585.5" r="3.1"/>
<circle cx="583.2" cy="589.5" r="3.1"/>
<circle cx="589.0" cy="591.0" r="3.1"/>
<circle cx="596.4" cy="591.0" r="3.1"/>
<circle cx="602.1" cy="589.8" r="3.1"/>
<circle cx="589.0" cy="594.9" r="3.1"/>
<circle cx="596.4" cy="595.7" r="3.1"/>
<circle cx="585.1" cy="599.7" r="3.1"/>
<circle cx="600.5" cy="601.7" r="3.1"/>
<circle cx="592.6" cy="605.9" r="3.1"/>
<circle cx="589.0" cy="613.8" r="3.1"/>
<circle cx="592.6" cy="615.3" r="3.1"/>
<circle cx="589.0" cy="620.8" r="3.1"/>
<circle cx="596.4" cy="620.8" r="3.1"/>
<circle cx="592.6" cy="636.0" r="3.1"/>
<line x1="82.30" y1="583.9" x2="118.90" y2="583.9" stroke="#000" stroke-width="2.7"/>
<line x1="123.80" y1="586.3" x2="160.40" y2="586.3" stroke="#000" stroke-width="2.7"/>
<line x1="162.10" y1="575.3" x2="198.70" y2="575.3" stroke="#000" stroke-width="2.7"/>
<line x1="205.30" y1="583.9" x2="241.90" y2="583.9" stroke="#000" stroke-width="2.7"/>
<line x1="244.10" y1="602.3" x2="280.70" y2="602.3" stroke="#000" stroke-width="2.7"/>
<line x1="284.90" y1="570.1" x2="321.50" y2="570.1" stroke="#000" stroke-width="2.7"/>
<line x1="328.20" y1="567.1" x2="364.80" y2="567.1" stroke="#000" stroke-width="2.7"/>
<line x1="368.10" y1="573.3" x2="404.70" y2="573.3" stroke="#000" stroke-width="2.7"/>
<line x1="411.50" y1="555.7" x2="448.10" y2="555.7" stroke="#000" stroke-width="2.7"/>
<line x1="451.30" y1="662.9" x2="487.90" y2="662.9" stroke="#000" stroke-width="2.7"/>
<line x1="493.70" y1="580.3" x2="530.30" y2="580.3" stroke="#000" stroke-width="2.7"/>
<line x1="531.80" y1="564.9" x2="568.40" y2="564.9" stroke="#000" stroke-width="2.7"/>
<line x1="574.30" y1="565.9" x2="610.90" y2="565.9" stroke="#000" stroke-width="2.7"/>
<text x="9.6" y="461.7" class="nm">b</text>
<text transform="translate(13.9,630.5) rotate(-90)" text-anchor="middle" class="mfi">MFI</text>
</svg>
</body></html>
